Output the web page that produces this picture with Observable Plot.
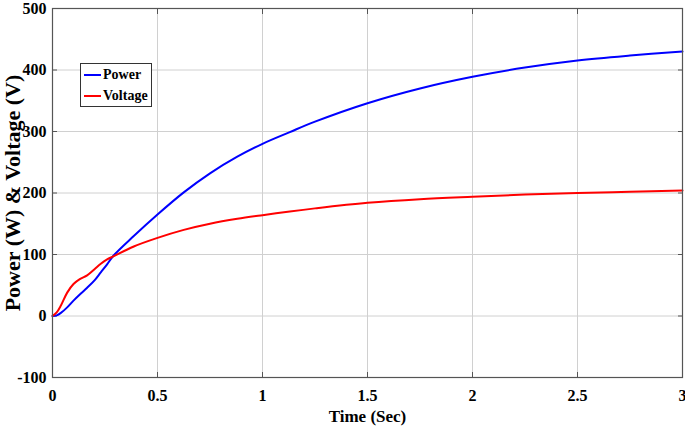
<!DOCTYPE html>
<html>
<head>
<meta charset="utf-8">
<script src="https://cdn.jsdelivr.net/npm/d3@7"></script>
<script src="https://cdn.jsdelivr.net/npm/@observablehq/plot@0.6"></script>
<style>
  body { margin: 0; background: #fff; }
  #wrap { position: relative; width: 685px; height: 432px; }
  #legend {
    position: absolute; left: 80px; top: 63px; width: 70px; height: 42px;
    border: 1.5px solid #333; background: #fff;
    font-family: "Liberation Serif", "Times New Roman", serif; font-weight: bold; font-size: 14px;
    box-sizing: content-box;
  }
  #legend .item { display: flex; align-items: center; height: 20px; margin-top: 1px; }
  #legend .sw { width: 17px; height: 2px; margin: 0 2px 0 3px; }
</style>
</head>
<body>
<div id="wrap">
  <div id="chart"></div>
  <div id="legend"></div>
</div>
<script>
const time    = [0, 0.02, 0.04, 0.07, 0.1, 0.13, 0.165, 0.2, 0.23, 0.26, 0.29, 0.387, 0.5, 0.625, 0.75, 0.88, 1, 1.13, 1.25, 1.5, 1.75, 2, 2.25, 2.5, 2.75, 3];
const power   = [0, 1, 5, 14, 25, 35, 46, 58, 71, 84, 98, 130, 165, 201, 232, 259, 280, 299, 316, 346, 370, 389, 404, 415.5, 423.5, 430];
const voltage = [0, 6, 17, 38, 52, 60, 66, 76, 85, 92, 97, 113, 127, 140, 150, 158, 164, 170, 175, 184, 190, 194, 197.5, 200, 202, 204];
const xTicks = [0, 0.5, 1, 1.5, 2, 2.5, 3];
const yTicks = [-100, 0, 100, 200, 300, 400, 500];
const seriesNames = ["Power", "Voltage"];
const seriesColors = ["#0000ff", "#ff0000"];

const rows = [];
time.forEach((t, i) => {
  rows.push({t, v: power[i], s: seriesNames[0]});
  rows.push({t, v: voltage[i], s: seriesNames[1]});
});

const font = '"Liberation Serif", "Times New Roman", serif';
const blank = () => "";
const chart = Plot.plot({
  width: 685,
  height: 432,
  marginLeft: 52,
  marginRight: 3,
  marginTop: 8,
  marginBottom: 55,
  style: {fontFamily: font, fontWeight: "bold", fontSize: "16px", color: "#000", background: "#fff", overflow: "visible"},
  x: {domain: [0, 3], ticks: xTicks},
  y: {domain: [-100, 500], ticks: yTicks},
  color: {domain: seriesNames, range: seriesColors},
  marks: [
    Plot.gridX(xTicks, {stroke: "#d0d0d0", strokeOpacity: 1}),
    Plot.gridY(yTicks, {stroke: "#d0d0d0", strokeOpacity: 1}),
    Plot.axisX(xTicks, {tickSize: 0, tickPadding: 12, tickFormat: d => String(d), label: null, fontSize: 16}),
    Plot.axisY(yTicks, {tickSize: 0, tickPadding: 6, tickFormat: d => String(d), label: null, fontSize: 16}),
    Plot.axisX(xTicks, {anchor: "bottom", tickSize: -5, tickFormat: blank, label: null, stroke: "#555"}),
    Plot.axisX(xTicks, {anchor: "top", tickSize: -5, tickFormat: blank, label: null, stroke: "#555"}),
    Plot.axisY(yTicks, {anchor: "left", tickSize: -5, tickFormat: blank, label: null, stroke: "#555"}),
    Plot.axisY(yTicks, {anchor: "right", tickSize: -5, tickFormat: blank, label: null, stroke: "#555"}),
    Plot.line(rows, {x: "t", y: "v", z: "s", stroke: "s", strokeWidth: 2, curve: "catmull-rom"}),
    Plot.frame({stroke: "#555", strokeWidth: 1.2}),
    Plot.text(["Time (Sec)"], {frameAnchor: "bottom", dy: 44, fontSize: 17, fontWeight: "bold"}),
    Plot.text(["Power (W) & Voltage (V)"], {frameAnchor: "left", textAnchor: "middle", rotate: -90, dx: -40, fontSize: 22, fontWeight: "bold"})
  ]
});
document.getElementById("chart").appendChild(chart);

const leg = document.getElementById("legend");
seriesNames.forEach((n, i) => {
  const it = document.createElement("div");
  it.className = "item";
  const sw = document.createElement("span");
  sw.className = "sw";
  sw.style.background = seriesColors[i];
  const tx = document.createElement("span");
  tx.textContent = n;
  it.appendChild(sw); it.appendChild(tx);
  leg.appendChild(it);
});
</script>
</body>
</html>
